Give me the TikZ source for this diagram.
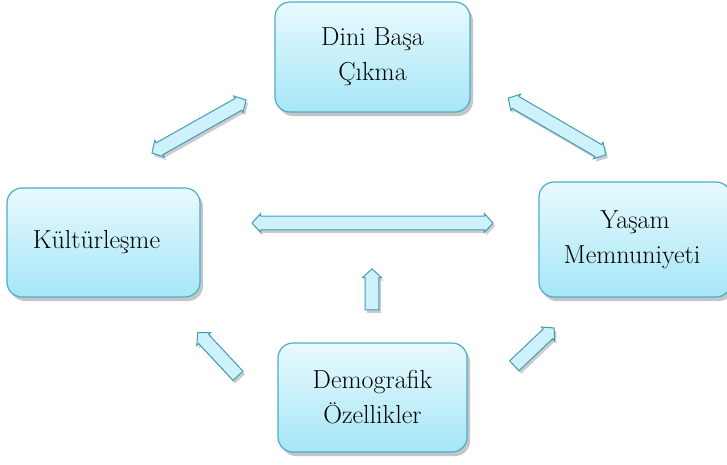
\documentclass[tikz,border=0pt]{standalone}
\usepackage{fontspec}
\usetikzlibrary{shapes,arrows,shadows}

\definecolor{boxline}{HTML}{4AADC9}
\definecolor{boxtop}{HTML}{E8FAFE}
\definecolor{boxbot}{HTML}{A6E6F7}
\definecolor{arrfill}{HTML}{CDF2FC}

\begin{document}
\begin{tikzpicture}[%
    x=1pt, y=-1pt,              % Work in pixel-like units, y going down
    font=\fontsize{26}{35}\selectfont,
    ]
% -------------------------------------------------
% Box and arrow styles
\tikzset{
  box/.style={draw=boxline, line width=1.2pt, rectangle, rounded corners=15pt,
    top color=boxtop, bottom color=boxbot, align=center,
    drop shadow={shadow xshift=3pt, shadow yshift=-4pt, fill=black!45}},
  arr/.style={draw=boxline!90!black, line width=1pt, fill=arrfill, inner sep=4.5pt,
    drop shadow={shadow xshift=2pt, shadow yshift=-3pt, fill=black!40}},
  dbl/.style={arr, double arrow, minimum width=19pt, double arrow head extend=2pt,
    double arrow tip angle=95},
  sgl/.style={arr, single arrow, minimum width=19pt, single arrow head extend=2pt,
    single arrow tip angle=95},
}
\useasboundingbox (0,0) rectangle (727,464);
% -------------------------------------------------
% Start by placing the boxes

\node [box, minimum width=195pt, minimum height=110pt] (din) at (372.5,57) {Dini Başa\\Çıkma};
\node [box, minimum width=193pt, minimum height=109pt] (kul) at (103.5,242.5) {Kültürleşme\hspace*{14pt}};
\node [box, minimum width=192pt, minimum height=115pt] (yas) at (635,239.5) {Yaşam\\Memnuniyeti\hspace*{6pt}};
\node [box, minimum width=189pt, minimum height=109pt] (dem) at (372.5,397.5) {Demografik\\Özellikler};

% Block arrows between the boxes
\node [dbl, minimum height=108pt, rotate=29.4] (kd) at (199,126.5) {};	%Kültürleşme,Dini Başa Çıkma
\node [dbl, minimum height=113pt, rotate=-30.2] (dy) at (557,126.5) {};	%Dini Başa Çıkma,Yaşam Memnuniyeti
\node [dbl, minimum height=241pt] (ky) at (372.5,223) {};		%Kültürleşme,Yaşam Memnuniyeti
\node [sgl, minimum height=41pt, rotate=90] (dm) at (372,292.5) {};	%Demografik,middle arrow
\node [sgl, minimum height=59pt, rotate=133] (dk) at (220,356.5) {};	%Demografik,Kültürleşme
\node [sgl, minimum height=55pt, rotate=43.5] (dya) at (532,349) {};	%Demografik,Yaşam Memnuniyeti

% -------------------------------------------------
\end{tikzpicture}
\end{document}
